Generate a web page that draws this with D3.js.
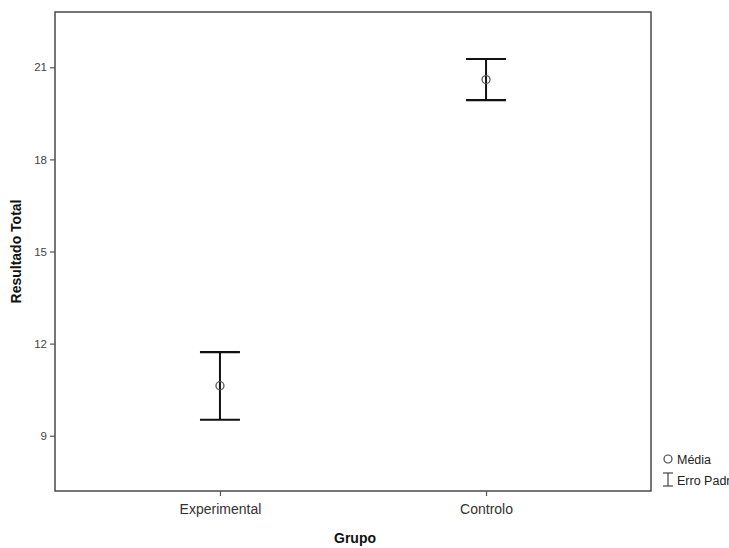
<!DOCTYPE html>
<html>
<head>
<meta charset="utf-8">
<script src="https://cdn.jsdelivr.net/npm/d3@7"></script>
<style>
  html, body { margin: 0; padding: 0; background: #fff; }
  svg { display: block; }
</style>
</head>
<body>
<svg id="chart" width="729" height="548"></svg>
<script>
// Group means with ±1 standard error
const groups = ["Experimental", "Controlo"];
const means = [10.63, 20.60];
const lower = [9.52, 19.93];
const upper = [11.72, 21.27];
const yTicks = [9, 12, 15, 18, 21];

const svg = d3.select("#chart");
const frame = { left: 55, right: 651, top: 12, bottom: 491 };

const x = d3.scalePoint()
  .domain(groups)
  .range([frame.left, frame.right])
  .padding(0.62);

const y = d3.scaleLinear()
  .domain([7.2, 22.8])
  .range([frame.bottom, frame.top]);

const font = "'Liberation Sans', Arial, sans-serif";

// plot frame
svg.append("rect")
  .attr("x", frame.left).attr("y", frame.top)
  .attr("width", frame.right - frame.left)
  .attr("height", frame.bottom - frame.top)
  .attr("fill", "none")
  .attr("stroke", "#4a4a4a")
  .attr("stroke-width", 1.5);

// y axis
const yAxis = svg.append("g")
  .attr("transform", `translate(${frame.left},0)`)
  .call(d3.axisLeft(y).tickValues(yTicks).tickSize(5).tickPadding(3).tickFormat(d3.format("d")));
yAxis.select(".domain").remove();
yAxis.selectAll(".tick line").attr("stroke", "#555").attr("stroke-width", 1.2);
yAxis.selectAll(".tick text")
  .attr("fill", "#444")
  .style("font-family", font)
  .style("font-size", "11.5px");

// x axis
const xAxis = svg.append("g")
  .attr("transform", `translate(0,${frame.bottom})`)
  .call(d3.axisBottom(x).tickSize(5).tickPadding(8));
xAxis.select(".domain").remove();
xAxis.selectAll(".tick line").attr("stroke", "#555").attr("stroke-width", 1.2);
xAxis.selectAll(".tick text")
  .attr("fill", "#333")
  .style("font-family", font)
  .style("font-size", "14px");

// axis titles
svg.append("text")
  .attr("x", (frame.left + frame.right) / 2 + 2)
  .attr("y", 543)
  .attr("text-anchor", "middle")
  .style("font-family", font)
  .style("font-size", "14px")
  .style("font-weight", "bold")
  .attr("fill", "#111")
  .text("Grupo");

svg.append("text")
  .attr("transform", `translate(21,${(frame.top + frame.bottom) / 2}) rotate(-90)`)
  .attr("text-anchor", "middle")
  .style("font-family", font)
  .style("font-size", "14px")
  .style("font-weight", "bold")
  .attr("fill", "#111")
  .text("Resultado Total");

// error bars
const capHalf = 20;
const bars = svg.append("g").selectAll("g")
  .data(groups.map((g, i) => ({ g, m: means[i], lo: lower[i], hi: upper[i] })))
  .join("g");

bars.append("line")
  .attr("x1", d => x(d.g)).attr("x2", d => x(d.g))
  .attr("y1", d => y(d.lo)).attr("y2", d => y(d.hi))
  .attr("stroke", "#111").attr("stroke-width", 2);
bars.append("line")
  .attr("x1", d => x(d.g) - capHalf).attr("x2", d => x(d.g) + capHalf)
  .attr("y1", d => y(d.hi)).attr("y2", d => y(d.hi))
  .attr("stroke", "#111").attr("stroke-width", 2.2);
bars.append("line")
  .attr("x1", d => x(d.g) - capHalf).attr("x2", d => x(d.g) + capHalf)
  .attr("y1", d => y(d.lo)).attr("y2", d => y(d.lo))
  .attr("stroke", "#111").attr("stroke-width", 2.2);
bars.append("circle")
  .attr("cx", d => x(d.g)).attr("cy", d => y(d.m))
  .attr("r", 4)
  .attr("fill", "none")
  .attr("stroke", "#555").attr("stroke-width", 1.3);

// legend (the second entry runs past the right edge of the canvas)
const lg = svg.append("g");
lg.append("circle")
  .attr("cx", 668).attr("cy", 459).attr("r", 4)
  .attr("fill", "none").attr("stroke", "#444").attr("stroke-width", 1.2);
lg.append("text")
  .attr("x", 677).attr("y", 464)
  .style("font-family", font).style("font-size", "12.5px")
  .attr("fill", "#222").text("Média");
const ex = 668, ey0 = 473, ey1 = 486;
lg.append("line").attr("x1", ex).attr("x2", ex).attr("y1", ey0).attr("y2", ey1)
  .attr("stroke", "#444").attr("stroke-width", 1.2);
lg.append("line").attr("x1", ex - 5).attr("x2", ex + 5).attr("y1", ey0).attr("y2", ey0)
  .attr("stroke", "#444").attr("stroke-width", 1.2);
lg.append("line").attr("x1", ex - 5).attr("x2", ex + 5).attr("y1", ey1).attr("y2", ey1)
  .attr("stroke", "#444").attr("stroke-width", 1.2);
lg.append("text")
  .attr("x", 677).attr("y", 485)
  .style("font-family", font).style("font-size", "12.5px")
  .attr("fill", "#222").text("Erro Padrão");
</script>
</body>
</html>
